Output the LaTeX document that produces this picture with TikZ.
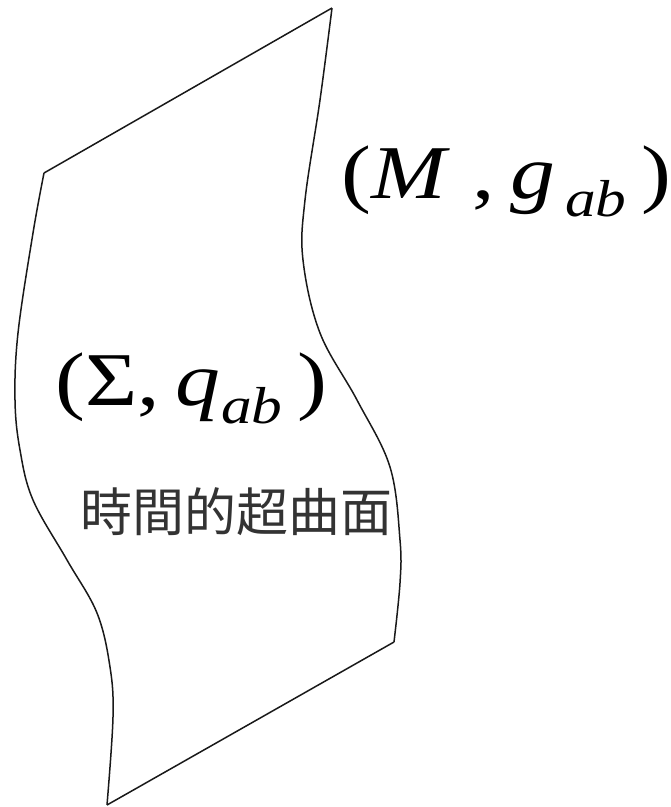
\documentclass[tikz,border=0pt]{standalone}
\usepackage{fontspec}
\setmainfont{Liberation Serif}
\newfontfamily\cjk{Noto Sans CJK TC}
\newcommand{\bigfont}{\fontsize{76}{80}\selectfont}
\newcommand{\subfont}{\fontsize{52}{56}\selectfont}
\newcommand{\widetext}[1]{\scalebox{1.18}[1]{#1}}

\begin{document}
\begin{tikzpicture}[x=1pt,y=-1pt,line width=1.5pt,black!90]
    \useasboundingbox (0,0) rectangle (671,807);
    % Corners of the hypersurface
    \coordinate (TL) at (44,173);
    \coordinate (TR) at (332,8);
    \coordinate (BR) at (394,642);
    \coordinate (BL) at (107,805);
    % Straight edges
    \draw (TL) -- (TR);
    \draw (BL) -- (BR);
    % Wavy sides
    \draw plot[smooth,tension=0.6] coordinates {(TR) (320,100) (305,200) (303,260) (320,333) (357,400) (390,467) (400,540) (400,583) (BR)};
    \draw plot[smooth,tension=0.6] coordinates {(TL) (33,233) (18,333) (15,400) (20,450) (33,500) (67,560) (97,613) (110,667) (113,717) (BL)};
    % Labels
    \node[anchor=base west,inner sep=0,black] (spacetime) at (341,198)
        {\widetext{\bigfont (\textit{M} ,\,\textit{g}\raisebox{-0.24em}{\subfont\,\textit{ab}}\,)}};
    \node[anchor=base west,inner sep=0,black] (slice) at (55,405)
        {\widetext{\bigfont (Σ,\,\textit{q}\raisebox{-0.24em}{\subfont\kern0.02em\textit{ab}}\,)}};
    \node[anchor=west,inner sep=0,black!80] (name) at (80,512)
        {\cjk\fontsize{52}{56}\selectfont 時間的超曲面};
\end{tikzpicture}
\end{document}
